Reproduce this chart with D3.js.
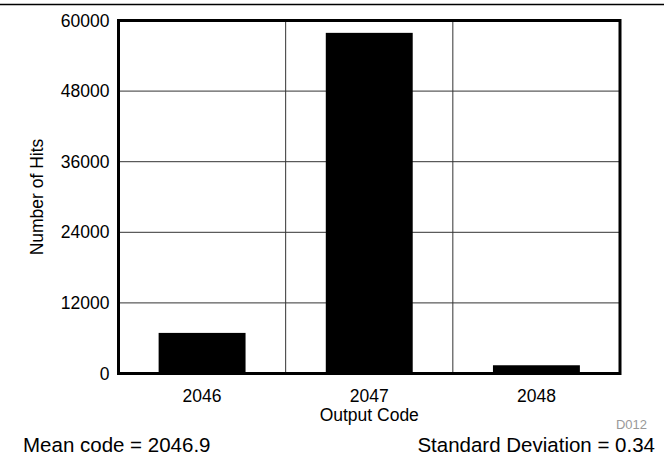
<!DOCTYPE html>
<html>
<head>
<meta charset="utf-8">
<script src="https://cdn.jsdelivr.net/npm/d3@7"></script>
<style>
  body { margin: 0; background: #fff; }
  svg { display: block; font-family: "Liberation Sans", Arial, sans-serif; }
</style>
</head>
<body>
<div id="histChart"></div>
<script>
var codes = ['2046', '2047', '2048'];
var hits = [6900, 57900, 1400];
var yTicks = [0, 12000, 24000, 36000, 48000, 60000];
var meanText = 'Mean code = 2046.9';
var stdText = 'Standard Deviation = 0.34';
var figId = 'D012';

var data = codes.map(function(c, i) { return {key: c, value: hits[i]}; });

// Dimensiones
var W = 671, H = 464;
var margin = {top: 20.5, right: 51, bottom: 90.5, left: 118.5};
var width = W - margin.left - margin.right;
var height = H - margin.top - margin.bottom;

var svg = d3.select('div#histChart').append('svg')
.attr('width', W)
.attr('height', H);

svg.append('rect')
.attr('width', W)
.attr('height', H)
.style('fill', '#fff');

// linea superior
svg.append('line')
.attr('x1', 0)
.attr('x2', 664)
.attr('y1', 4.5)
.attr('y2', 4.5)
.style('stroke', '#000')
.style('stroke-width', 1.5);

var chart = svg.append('g')
.attr('transform', 'translate(' + margin.left + ',' + margin.top + ')');

// Escalas
var x = d3.scaleBand()
.domain(codes)
.range([0, width])
.paddingInner(0.48)
.paddingOuter(0.24);

var xGrid = d3.scaleBand()
.domain(codes)
.range([0, width]);

var y = d3.scaleLinear()
.domain([0, 60000])
.range([height, 0]);

// Rejilla
chart.append('g')
.selectAll('line.hgrid')
.data(yTicks.slice(1, -1))
.enter()
.append('line')
.classed('hgrid', true)
.attr('x1', 0)
.attr('x2', width)
.attr('y1', function(d) { return y(d); })
.attr('y2', function(d) { return y(d); })
.style('stroke', '#333')
.style('stroke-width', 1);

chart.append('g')
.selectAll('line.vgrid')
.data(codes.slice(1))
.enter()
.append('line')
.classed('vgrid', true)
.attr('x1', function(d) { return xGrid(d); })
.attr('x2', function(d) { return xGrid(d); })
.attr('y1', 0)
.attr('y2', height)
.style('stroke', '#333')
.style('stroke-width', 1);

// Barras
chart.append('g')
.selectAll('.bar')
.data(data)
.enter()
.append('rect')
.classed('bar', true)
.attr('x', function(d) { return x(d.key); })
.attr('y', function(d) { return y(d.value); })
.attr('width', x.bandwidth())
.attr('height', function(d) { return height - y(d.value); })
.style('fill', '#000');

// Marco
chart.append('rect')
.attr('width', width)
.attr('height', height)
.style('fill', 'none')
.style('stroke', '#000')
.style('stroke-width', 3);

// Ejes
var yAxis = d3.axisLeft(y)
.tickValues(yTicks)
.tickFormat(d3.format('d'))
.tickSize(0)
.tickPadding(9);

var xAxis = d3.axisBottom(xGrid)
.tickSize(0)
.tickPadding(16);

chart.append('g')
.classed('y axis', true)
.call(yAxis)
.call(function(g) { g.select('.domain').remove(); })
.selectAll('text')
.style('font-size', '17.5px')
.style('font-family', '"Liberation Sans", Arial, sans-serif')
.style('fill', '#000');

chart.append('g')
.classed('x axis', true)
.attr('transform', 'translate(0,' + height + ')')
.call(xAxis)
.call(function(g) { g.select('.domain').remove(); })
.selectAll('text')
.style('font-size', '17.5px')
.style('font-family', '"Liberation Sans", Arial, sans-serif')
.style('fill', '#000');

// Titulos
svg.append('text')
.attr('transform', 'rotate(-90)')
.attr('x', -(margin.top + height / 2))
.attr('y', 43)
.style('text-anchor', 'middle')
.style('font-size', '17.5px')
.text('Number of Hits');

svg.append('text')
.attr('x', margin.left + width / 2)
.attr('y', 421)
.style('text-anchor', 'middle')
.style('font-size', '17.5px')
.text('Output Code');

svg.append('text')
.attr('x', 647)
.attr('y', 429)
.style('text-anchor', 'end')
.style('font-size', '13px')
.style('fill', '#999')
.text(figId);

svg.append('text')
.attr('x', 23)
.attr('y', 452)
.style('font-size', '20.5px')
.text(meanText);

svg.append('text')
.attr('x', 655)
.attr('y', 452)
.style('text-anchor', 'end')
.style('font-size', '20.5px')
.text(stdText);
</script>
</body>
</html>
